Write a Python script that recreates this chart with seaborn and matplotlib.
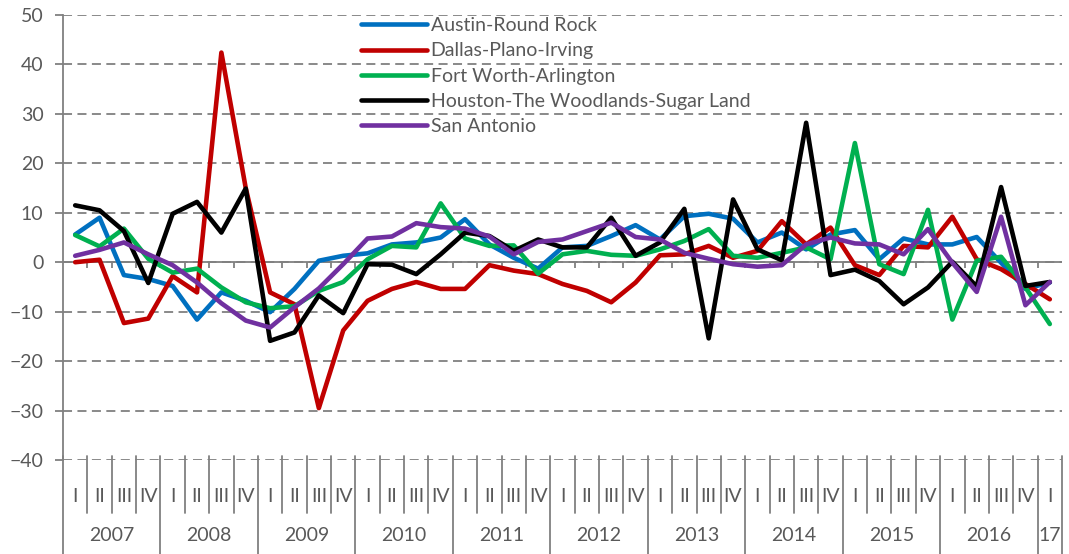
import pandas as pd
import matplotlib.pyplot as plt
import matplotlib.transforms as mtransforms
import seaborn as sns

# Quarterly change (%), 2007 Q1 .. 2017 Q1
quarters = ['I', 'II', 'III', 'IV'] * 10 + ['I']
years = ['2007', '2008', '2009', '2010', '2011', '2012',
         '2013', '2014', '2015', '2016', '17']

austin = [5.6, 9.0, -2.6, -3.4, -4.8, -11.6, -6.1, -7.8, -10.1, -5.4,
          0.3, 1.3, 1.8, 3.6, 4.0, 5.0, 8.7, 3.6, 0.9, -1.3,
          3.0, 3.3, 5.3, 7.5, 4.6, 9.3, 9.8, 8.8, 4.0, 6.0,
          2.6, 5.6, 6.5, 0.6, 4.8, 3.6, 3.6, 5.1, -0.1, -5.4, -4.1]
dallas = [0.0, 0.5, -12.3, -11.4, -2.8, -6.1, 42.4, 15.0, -6.1, -8.5,
          -29.5, -13.8, -7.8, -5.4, -4.0, -5.4, -5.4, -0.6, -1.7, -2.4,
          -4.4, -5.8, -8.1, -4.1, 1.4, 1.6, 3.3, 0.9, 2.3, 8.3,
          3.6, 7.0, -0.6, -2.6, 3.3, 3.0, 9.2, 0.6, -1.4, -4.4, -7.5]
fort_worth = [5.5, 3.2, 6.8, 0.7, -2.1, -1.3, -5.1, -8.1, -9.3, -8.9,
              -5.8, -4.0, 0.6, 3.3, 3.0, 11.9, 4.8, 3.3, 3.4, -2.3,
              1.6, 2.3, 1.5, 1.3, 2.6, 4.3, 6.7, 1.3, 0.9, 1.9,
              3.0, 0.6, 24.1, -0.4, -2.4, 10.6, -11.6, 0.3, 1.1, -5.1, -12.5]
houston = [11.5, 10.5, 6.3, -4.2, 9.8, 12.2, 6.0, 14.9, -15.9, -14.2,
           -6.7, -10.3, -0.4, -0.5, -2.4, 1.6, 6.0, 5.3, 2.3, 4.6,
           3.0, 3.0, 9.0, 1.3, 4.0, 10.8, -15.4, 12.7, 2.6, 0.4,
           28.2, -2.6, -1.5, -3.8, -8.5, -5.1, 0.1, -4.9, 15.2, -4.8, -4.0]
san_antonio = [1.3, 2.5, 4.0, 1.6, -0.6, -4.1, -8.3, -11.8, -13.2, -9.1,
               -5.3, -0.4, 4.8, 5.2, 7.9, 7.1, 6.8, 5.2, 1.6, 4.1,
               4.6, 6.3, 8.0, 5.1, 4.6, 1.9, 0.7, -0.4, -0.9, -0.6,
               3.6, 5.0, 3.8, 3.6, 1.6, 6.7, -0.1, -6.0, 9.2, -8.7, -4.0]

series = {
    'Austin-Round Rock': austin,
    'Dallas-Plano-Irving': dallas,
    'Fort Worth-Arlington': fort_worth,
    'Houston-The Woodlands-Sugar Land': houston,
    'San Antonio': san_antonio,
}
colors = ['#0070C0', '#C00000', '#00B050', '#000000', '#7030A0']

frames = []
for name, vals in series.items():
    frames.append(pd.DataFrame({'q': range(len(vals)), 'value': vals, 'metro': name}))
df = pd.concat(frames, ignore_index=True)

sns.set_theme(style='white')
plt.rcParams['font.family'] = ['Lato', 'DejaVu Sans']
grey = '#595959'
fs = 14

fig = plt.figure(figsize=(10.69, 5.54), dpi=100)
ax = fig.add_axes([63 / 1069, 1 - 460 / 554, 999 / 1069, 445 / 554])

sns.lineplot(data=df, x='q', y='value', hue='metro', palette=colors,
             linewidth=3.3, ax=ax, legend=True)

n = len(quarters)
ax.set_xlim(-0.5, n - 0.5)
ax.set_ylim(-40, 50)
ax.set_yticks(range(-40, 51, 10))
ax.yaxis.grid(True, linestyle=(0, (5, 3)), color='#808080', linewidth=1.3)
ax.xaxis.grid(False)
for s in ['top', 'right', 'bottom']:
    ax.spines[s].set_visible(False)
ax.spines['left'].set_color('#808080')
ax.spines['left'].set_linewidth(1.3)
ax.tick_params(axis='y', labelcolor=grey, labelsize=fs, length=6, width=1.3,
               color='#808080', direction='out', left=True, pad=8)
ax.set_xlabel('')
ax.set_ylabel('')

# zero line with small category ticks
ax.axhline(0, color='#808080', linewidth=1.3, zorder=1)
bounds = [i + 0.5 for i in range(n - 1)]
ax.vlines(bounds, -1.2, 0, color='#808080', linewidth=1.3, zorder=1)

# two-level category axis at the bottom
ax.set_xticks(range(n))
ax.set_xticklabels(quarters, color=grey, fontsize=fs)
ax.tick_params(axis='x', length=0, pad=20)
trans = mtransforms.blended_transform_factory(ax.transData, ax.transAxes)
all_bounds = [-0.5] + bounds + [n - 0.5]
for b in all_bounds:
    k = b + 0.5
    is_year = (k % 4 == 0) or b == n - 0.5
    bottom = -0.212 if is_year else -0.119
    ax.plot([b, b], [0.008, bottom], color='#808080', linewidth=1.3,
            transform=trans, clip_on=False)
for j, yr in enumerate(years):
    start = j * 4 - 0.5
    end = min(start + 4, n - 0.5)
    ax.text((start + end) / 2, -0.17, yr, transform=trans, ha='center',
            va='center', color=grey, fontsize=fs)

handles, labels = ax.get_legend_handles_labels()
ax.legend(handles, labels, loc='upper left', bbox_to_anchor=(0.298, 0.995),
          frameon=False, fontsize=fs, handlelength=3.4, handletextpad=0.2,
          labelspacing=0.42, borderaxespad=0.0, borderpad=0.0,
          labelcolor=grey)

fig.savefig('out.png', dpi=100)
